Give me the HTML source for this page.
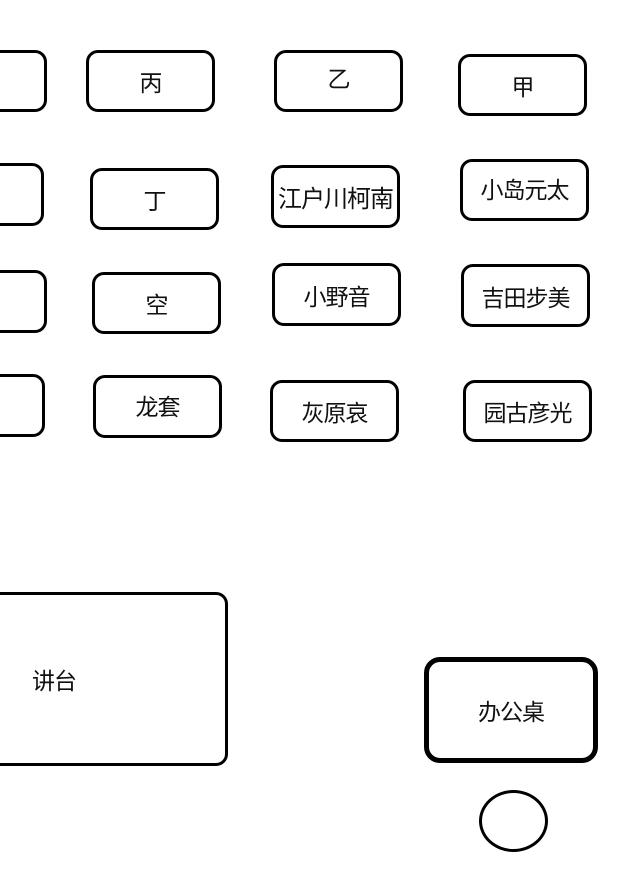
<!DOCTYPE html>
<html><head><meta charset="utf-8"><style>
html,body{margin:0;padding:0;background:#fff;width:640px;height:886px;overflow:hidden;position:relative}
.b{position:absolute;box-sizing:border-box;border:3px solid #000;border-radius:12px;display:flex;align-items:center;justify-content:center;font-family:"Liberation Sans","Noto Sans CJK SC",sans-serif;font-size:23px;color:#111;white-space:nowrap;letter-spacing:-1px}
</style></head><body>
<div class="b" style="left:-30px;top:50px;width:77px;height:62px"></div>
<div class="b" style="left:86px;top:50px;width:129px;height:62px">丙</div>
<div class="b" style="left:274px;top:50px;width:129px;height:62px;padding-bottom:8px">乙</div>
<div class="b" style="left:458px;top:54px;width:129px;height:62px">甲</div>

<div class="b" style="left:-30px;top:163px;width:74px;height:63px"></div>
<div class="b" style="left:90px;top:168px;width:129px;height:62px">丁</div>
<div class="b" style="left:271px;top:165px;width:129px;height:63px;font-size:24px">江户川柯南</div>
<div class="b" style="left:460px;top:159px;width:129px;height:62px;padding-bottom:4px">小岛元太</div>

<div class="b" style="left:-30px;top:270px;width:77px;height:63px"></div>
<div class="b" style="left:92px;top:272px;width:129px;height:62px">空</div>
<div class="b" style="left:272px;top:263px;width:129px;height:63px">小野音</div>
<div class="b" style="left:461px;top:264px;width:129px;height:63px">吉田步美</div>

<div class="b" style="left:-30px;top:374px;width:75px;height:63px"></div>
<div class="b" style="left:93px;top:375px;width:129px;height:63px;padding-bottom:4px">龙套</div>
<div class="b" style="left:270px;top:380px;width:129px;height:62px">灰原哀</div>
<div class="b" style="left:463px;top:380px;width:129px;height:62px">园古彦光</div>

<div class="b" style="left:-30px;top:592px;width:258px;height:174px;justify-content:flex-start;padding-left:59px">讲台</div>
<div class="b" style="left:424px;top:657px;width:174px;height:106px;border-width:5px;border-radius:16px">办公桌</div>
<div style="position:absolute;left:479px;top:790px;width:69px;height:62px;box-sizing:border-box;border:3px solid #000;border-radius:50%"></div>
</body></html>
